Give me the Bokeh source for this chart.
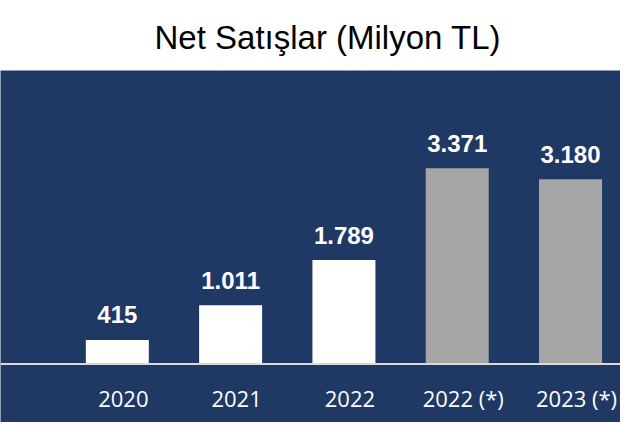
from bokeh.plotting import figure
from bokeh.models import ColumnDataSource, Range1d, LabelSet, Span
from bokeh.core.properties import value
from bokeh.embed import file_html
from bokeh.resources import INLINE

# ---- data ----
categories = ["2020", "2021", "2022", "2022 (*)", "2023 (*)"]
net_sales = [415, 1011, 1789, 3371, 3180]
title_text = "Net Satışlar (Milyon TL)"

# ---- styles ----
bar_colors = ["#ffffff", "#ffffff", "#ffffff", "#a6a6a6", "#a6a6a6"]
BG = "#203864"

xs = list(range(len(categories)))
value_labels = [f"{v:,}".replace(",", ".") for v in net_sales]
src = ColumnDataSource(dict(
    x=xs, top=net_sales, color=bar_colors, label=value_labels,
    cat=categories, zero=[0] * len(categories),
))

p = figure(width=620, height=422, output_backend="svg", toolbar_location=None,
           x_range=Range1d(-1.031, 4.441), y_range=Range1d(-1007, 5054),
           x_axis_location=None, y_axis_location=None,
           min_border_top=70, min_border_left=0, min_border_right=0,
           min_border_bottom=0,
           background_fill_color=BG, border_fill_color="white",
           outline_line_color=None)
p.grid.visible = False

p.title.text = title_text
p.title.align = "left"
p.title.offset = 154
p.title.standoff = 29
p.title.text_font = "Liberation Sans"
p.title.text_font_size = "33px"
p.title.text_font_style = "normal"
p.title.text_color = "black"

p.vbar(x="x", top="top", bottom=0, width=0.556, source=src,
       fill_color="color", line_color=None)

p.add_layout(Span(location=0, dimension="width", line_color="#d9d9d9",
                  line_width=2))

p.add_layout(LabelSet(x="x", y="top", text="label", source=src,
                      text_align="center", text_baseline="alphabetic",
                      y_offset=16.5, text_color="white",
                      text_font=value("Liberation Sans"),
                      text_font_size="24px", text_font_style="bold"))

p.add_layout(LabelSet(x="x", y="zero", text="cat", source=src,
                      text_align="center", text_baseline="alphabetic",
                      x_offset=6, y_offset=-43, text_color="white",
                      text_font=value("Open Sans"), text_font_size="22px"))

open("out.html", "w").write(file_html(p, INLINE))
